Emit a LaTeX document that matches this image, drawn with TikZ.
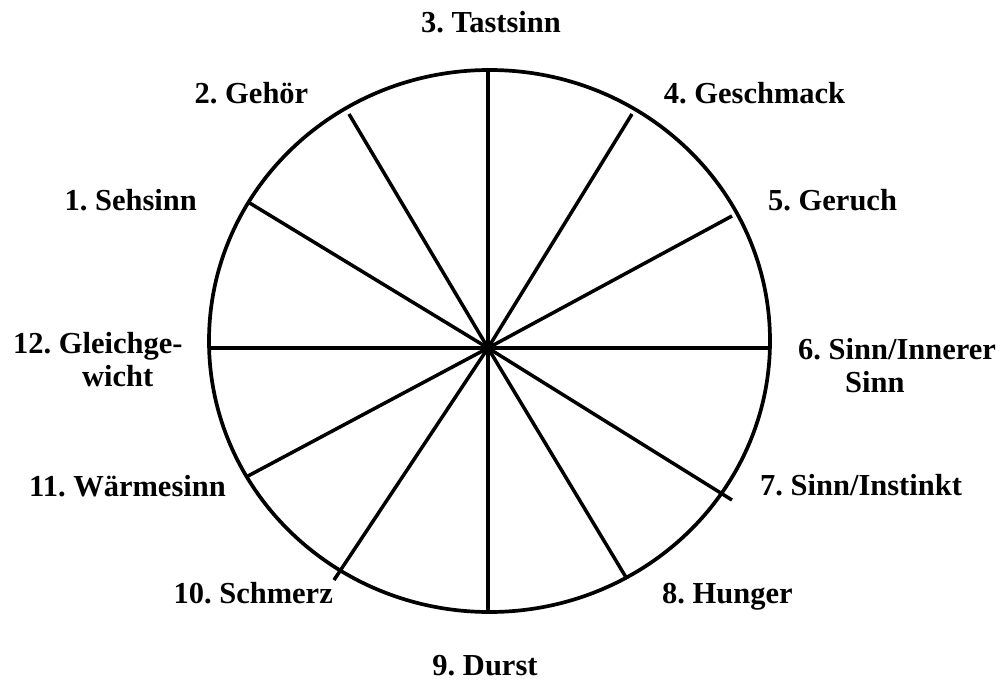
\documentclass[tikz,border=0pt]{standalone}
\usepackage{fontspec}
\setmainfont{Liberation Serif}
\frenchspacing
\begin{document}
\begin{tikzpicture}[x=1pt,y=-1pt,
  lbl/.style={inner sep=0pt,font=\bfseries\fontsize{30.5}{33}\selectfont},
  spoke/.style={line width=3.5pt,black},
  rim/.style={line width=3.7pt,black}]
\useasboundingbox (0,0) rectangle (1004,680);
\coordinate (c) at (488,348);
\coordinate (e3) at (488,70);
\coordinate (e9) at (488,612);
\coordinate (e12) at (209,348);
\coordinate (e6) at (770,348);
\coordinate (e2) at (349,114);
\coordinate (e4) at (632,114);
\coordinate (e1) at (248,202);
\coordinate (e5) at (732,216);
\coordinate (e11) at (248,476);
\coordinate (e7) at (732,500);
\coordinate (e10) at (334,580);
\coordinate (e8) at (627,579);
\draw[rim] (489.5,341) ellipse [x radius=280.5pt, y radius=271pt];
\foreach \i in {1,...,12} \draw[spoke] (c) -- (e\i);
\node[lbl,anchor=base] (l3) at (491,32) {3. Tastsinn};
\node[lbl,anchor=base] (l2) at (251.5,103) {2. Gehör};
\node[lbl,anchor=base] (l4) at (754.5,103) {4. Geschmack};
\node[lbl,anchor=base east] (l1) at (197,210) {1. Sehsinn};
\node[lbl,anchor=base west] (l5) at (768,210) {5. Geruch};
\node[lbl,anchor=base west] (l12) at (13,353) {\begin{tabular}[t]{@{}l@{}}12. Gleichge-\\\hspace*{69pt}wicht\end{tabular}};
\node[lbl,anchor=base west] (l6) at (798,359) {\begin{tabular}[t]{@{}l@{}}6. Sinn/Innerer\\\hspace*{47pt}Sinn\end{tabular}};
\node[lbl,anchor=base west] (l7) at (760,495) {7. Sinn/Instinkt};
\node[lbl,anchor=base east] (l11) at (226,496) {11. Wärmesinn};
\node[lbl,anchor=base east] (l10) at (333,603) {10. Schmerz};
\node[lbl,anchor=base west] (l8) at (662,603) {8. Hunger};
\node[lbl,anchor=base] (l9) at (485,675) {9. Durst};
\end{tikzpicture}
\end{document}
